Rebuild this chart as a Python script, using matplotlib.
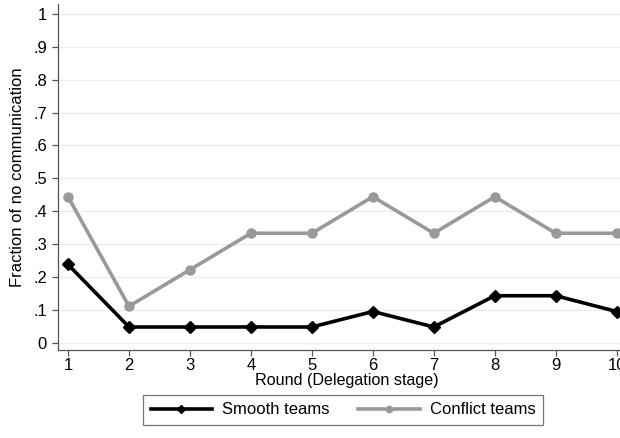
import matplotlib
matplotlib.use("Agg")
import matplotlib.pyplot as plt

plt.rcParams['font.family'] = ['Liberation Sans', 'DejaVu Sans']

rounds = [1, 2, 3, 4, 5, 6, 7, 8, 9, 10]
smooth = [0.238, 0.048, 0.048, 0.048, 0.048, 0.095, 0.048, 0.143, 0.143, 0.095]
conflict = [0.444, 0.111, 0.222, 0.333, 0.333, 0.444, 0.333, 0.444, 0.333, 0.333]
yticks = [0, 0.1, 0.2, 0.3, 0.4, 0.5, 0.6, 0.7, 0.8, 0.9, 1.0]
ytick_labels = ['0', '.1', '.2', '.3', '.4', '.5', '.6', '.7', '.8', '.9', '1']

W, H = 620, 438
fig = plt.figure(figsize=(W / 100, H / 100), dpi=100)
left, right, top, bottom = 58, 635, 4, 350
ax = fig.add_axes([left / W, 1 - bottom / H, (right - left) / W, (bottom - top) / H])

ax.plot(rounds, conflict, color='#999999', lw=2.6, marker='o', ms=6.5, label='Conflict teams', zorder=3)
ax.plot(rounds, smooth, color='black', lw=2.6, marker='D', ms=6, label='Smooth teams', zorder=4)

ax.set_xlim(0.836, 10.3)
ax.set_ylim(-0.022, 1.03)
ax.set_yticks(yticks)
ax.set_yticklabels(ytick_labels)
ax.set_xticks(rounds)
ax.grid(axis='y', color='#e8eef0', lw=0.9)
ax.set_axisbelow(True)
for s in ['top', 'right']:
    ax.spines[s].set_visible(False)
for s in ['left', 'bottom']:
    ax.spines[s].set_color('#555555')
    ax.spines[s].set_linewidth(0.9)
ax.tick_params(axis='both', colors='#555555', labelcolor='black', labelsize=12, length=4.5, width=0.9)
ax.tick_params(axis='x', pad=1.5)
ax.set_ylabel('Fraction of no communication', fontsize=12, labelpad=6)
ax.set_xlabel('Round (Delegation stage)', fontsize=11.6, labelpad=0)

handles, labels = ax.get_legend_handles_labels()
leg = fig.legend(handles[::-1], labels[::-1], loc='center', bbox_to_anchor=(343 / W, 1 - 410 / H),
                 ncol=2, frameon=True, fancybox=False, fontsize=12, handlelength=3.7,
                 columnspacing=1.7, borderpad=0.45, handletextpad=0.6, markerscale=0.7)
leg.get_frame().set_edgecolor('#555555')
leg.get_frame().set_linewidth(0.9)

fig.savefig('out.png', dpi=100)
